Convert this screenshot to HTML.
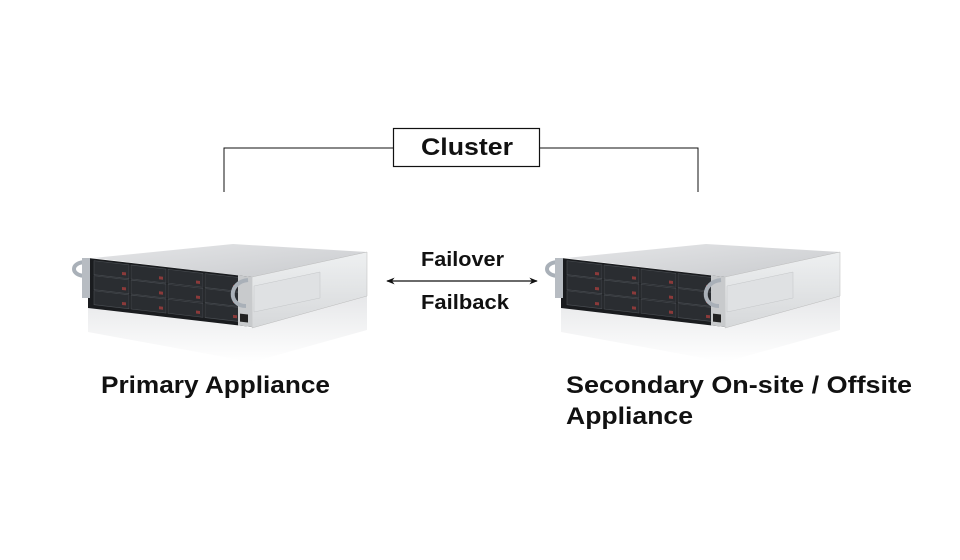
<!DOCTYPE html>
<html><head><meta charset="utf-8"><style>
html,body{margin:0;padding:0;background:#fff}
svg{display:block}
text{font-family:"Liberation Sans",sans-serif;font-weight:bold;fill:#111}
</style></head><body>
<svg width="960" height="560" viewBox="0 0 960 560" xmlns="http://www.w3.org/2000/svg">
<defs>
<linearGradient id="top" x1="0" y1="0" x2="1" y2="1"><stop offset="0" stop-color="#e4e5e7"/><stop offset="1" stop-color="#c9cbce"/></linearGradient>
<linearGradient id="side" x1="0" y1="0" x2="0" y2="1"><stop offset="0" stop-color="#eef0f1"/><stop offset="1" stop-color="#d6d8da"/></linearGradient>
<linearGradient id="refl" x1="0" y1="0" x2="0" y2="1"><stop offset="0" stop-color="#e6e7e9"/><stop offset="1" stop-color="#ffffff"/></linearGradient>
<g id="srv">
  <polygon points="88,298 252,328 367,296 367,330 252,362 88,332" fill="url(#refl)"/>
  <polygon points="93,258 233,244 367,252 252,277" fill="url(#top)"/>
  <polygon points="252,277 367,252 367,296 252,328" fill="url(#side)" stroke="#bbb" stroke-width="0.5"/>
  <polygon points="254,286 320,272 320,298 254,312" fill="#dfe1e3" stroke="#c4c6c8" stroke-width="0.5"/>
  <g transform="matrix(1,0.116,0,1,88,258)">
    <rect x="0" y="0" width="164" height="50" fill="#1a1c1f"/>
    <g fill="#2a2d31" stroke="#4a4e53" stroke-width="0.6">
      <rect x="6" y="2" width="35" height="14"/><rect x="43" y="2" width="35" height="14"/><rect x="80" y="2" width="35" height="14"/><rect x="117" y="2" width="35" height="14"/>
      <rect x="6" y="17" width="35" height="14"/><rect x="43" y="17" width="35" height="14"/><rect x="80" y="17" width="35" height="14"/><rect x="117" y="17" width="35" height="14"/>
      <rect x="6" y="32" width="35" height="14"/><rect x="43" y="32" width="35" height="14"/><rect x="80" y="32" width="35" height="14"/><rect x="117" y="32" width="35" height="14"/>
    </g>
    <g fill="#8b3a3a">
      <rect x="34" y="10" width="4" height="3"/><rect x="71" y="10" width="4" height="3"/><rect x="108" y="10" width="4" height="3"/><rect x="145" y="10" width="4" height="3"/>
      <rect x="34" y="25" width="4" height="3"/><rect x="71" y="25" width="4" height="3"/><rect x="108" y="25" width="4" height="3"/><rect x="145" y="25" width="4" height="3"/>
      <rect x="34" y="40" width="4" height="3"/><rect x="71" y="40" width="4" height="3"/><rect x="108" y="40" width="4" height="3"/><rect x="145" y="40" width="4" height="3"/>
    </g>
    <rect x="150" y="0" width="14" height="50" fill="#c8cacc"/>
    <rect x="152" y="38" width="8" height="8" fill="#222"/>
  </g>
  <path d="M86,262 C70,262 70,276 86,276" fill="none" stroke="#a9b0b8" stroke-width="4"/>
  <rect x="82" y="258" width="8" height="40" fill="#b7bcc2"/>
  <path d="M248,280 C228,282 228,306 246,306" fill="none" stroke="#a9b0b8" stroke-width="4"/>
</g>
<marker id="ah" viewBox="0 0 10 10" refX="9" refY="5" markerWidth="7" markerHeight="7" orient="auto-start-reverse"><path d="M0,1 L10,5 L0,9 L3,5 z" fill="#111"/></marker>
</defs>
<use href="#srv"/>
<use href="#srv" transform="translate(473,0)"/>
<polyline points="224,192 224,148 393,148" fill="none" stroke="#111" stroke-width="1"/>
<polyline points="540,148 698,148 698,192" fill="none" stroke="#111" stroke-width="1"/>
<rect x="393.5" y="128.5" width="146" height="38" fill="#fff" stroke="#111" stroke-width="1.2"/>
<text x="421" y="155" font-size="24" textLength="92" lengthAdjust="spacingAndGlyphs">Cluster</text>
<line x1="387" y1="281" x2="537" y2="281" stroke="#111" stroke-width="1.2" marker-start="url(#ah)" marker-end="url(#ah)"/>
<text x="421" y="266" font-size="20" textLength="83" lengthAdjust="spacingAndGlyphs">Failover</text>
<text x="421" y="309" font-size="20" textLength="88" lengthAdjust="spacingAndGlyphs">Failback</text>
<text x="101" y="393" font-size="24" textLength="229" lengthAdjust="spacingAndGlyphs">Primary Appliance</text>
<text x="566" y="393" font-size="24" textLength="346" lengthAdjust="spacingAndGlyphs">Secondary On-site / Offsite</text>
<text x="566" y="424" font-size="24" textLength="127" lengthAdjust="spacingAndGlyphs">Appliance</text>
</svg>
</body></html>
